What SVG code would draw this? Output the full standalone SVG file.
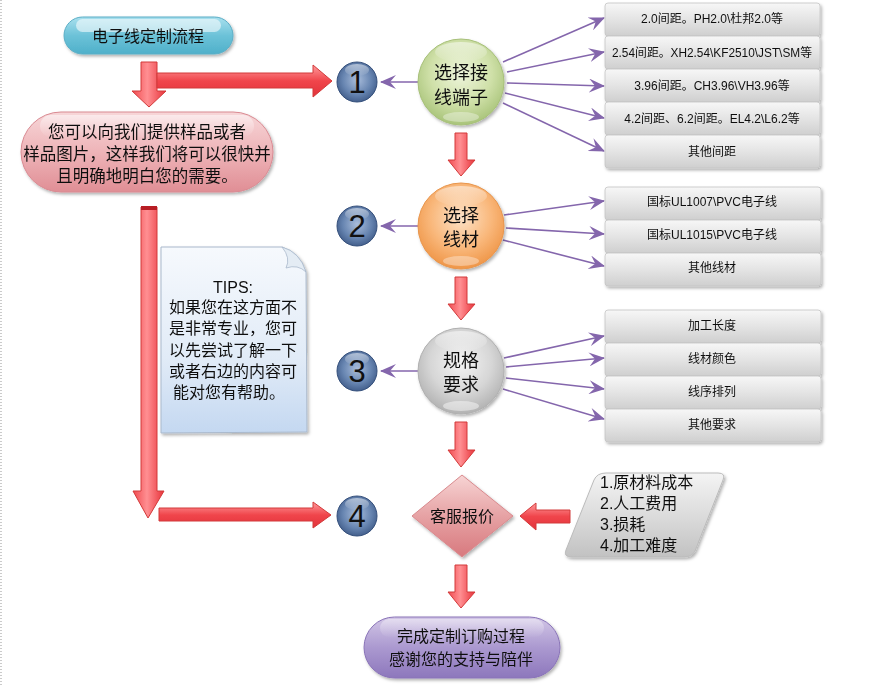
<svg xmlns="http://www.w3.org/2000/svg" width="878" height="685" viewBox="0 0 878 685">
<defs>
<style>
.cjk{font-family:"Liberation Sans","Noto Sans CJK SC",sans-serif;fill:#111;text-anchor:middle}
.t16{font-size:16px}
.t17{font-size:16.5px}
.t18{font-size:18px}
.t12{font-size:12px}
.num{font-family:"Liberation Sans",sans-serif;font-size:31px;fill:#111;text-anchor:middle}
.pl{stroke:#8466ac;stroke-width:1.6;fill:none;marker-end:url(#pa)}
.red{fill:url(#gRed);stroke:#d23a3a;stroke-width:1}
.row{fill:url(#gRow);stroke:#c4c4c4;stroke-width:0.8}
.hl{fill:#fff;opacity:0.55}
</style>
<marker id="pa" markerUnits="userSpaceOnUse" markerWidth="18" markerHeight="14" refX="15" refY="7" orient="auto">
<path d="M0,0 L16,7 L0,14 L6,7 z" fill="#8466ac"/>
</marker>
<linearGradient id="gRed" x1="0" y1="0" x2="1" y2="0">
<stop offset="0" stop-color="#f04a4f"/>
<stop offset="0.45" stop-color="#ff8f92"/>
<stop offset="1" stop-color="#e8323a"/>
</linearGradient>
<linearGradient id="gRedH" x1="0" y1="0" x2="0" y2="1">
<stop offset="0" stop-color="#ff9a9c"/>
<stop offset="0.5" stop-color="#f0454b"/>
<stop offset="1" stop-color="#e2323a"/>
</linearGradient>
<linearGradient id="gRow" x1="0" y1="0" x2="0" y2="1">
<stop offset="0" stop-color="#f7f7f7"/>
<stop offset="0.5" stop-color="#e4e4e4"/>
<stop offset="1" stop-color="#cfcfcf"/>
</linearGradient>
<linearGradient id="gTitle" x1="0" y1="0" x2="0" y2="1">
<stop offset="0" stop-color="#a9e0ee"/>
<stop offset="0.5" stop-color="#6cc2d8"/>
<stop offset="1" stop-color="#4fb0ca"/>
</linearGradient>
<linearGradient id="gPink" x1="0" y1="0" x2="0" y2="1">
<stop offset="0" stop-color="#f7d6d8"/>
<stop offset="0.5" stop-color="#eeb4b8"/>
<stop offset="1" stop-color="#e08e95"/>
</linearGradient>
<linearGradient id="gPurp" x1="0" y1="0" x2="0" y2="1">
<stop offset="0" stop-color="#d2c6e6"/>
<stop offset="0.5" stop-color="#ab99d0"/>
<stop offset="1" stop-color="#8d77bc"/>
</linearGradient>
<linearGradient id="gDia" x1="0" y1="0" x2="0" y2="1">
<stop offset="0" stop-color="#f7d4d4"/>
<stop offset="0.5" stop-color="#e6a2a4"/>
<stop offset="1" stop-color="#d8797e"/>
</linearGradient>
<linearGradient id="gPar" x1="0" y1="0" x2="0" y2="1">
<stop offset="0" stop-color="#f4f4f4"/>
<stop offset="0.5" stop-color="#dcdcdc"/>
<stop offset="1" stop-color="#c2c2c2"/>
</linearGradient>
<linearGradient id="gNote" x1="0" y1="0" x2="0" y2="1">
<stop offset="0" stop-color="#f6f9fd"/>
<stop offset="0.6" stop-color="#e1ebf7"/>
<stop offset="1" stop-color="#c4d8f1"/>
</linearGradient>
<radialGradient id="gGreen" cx="0.5" cy="0.4" r="0.6">
<stop offset="0" stop-color="#eef5dc"/>
<stop offset="0.6" stop-color="#cfe0a8"/>
<stop offset="1" stop-color="#a9c47a"/>
</radialGradient>
<radialGradient id="gOrange" cx="0.5" cy="0.4" r="0.6">
<stop offset="0" stop-color="#fde3c8"/>
<stop offset="0.6" stop-color="#f9b77a"/>
<stop offset="1" stop-color="#ef9648"/>
</radialGradient>
<radialGradient id="gGray" cx="0.5" cy="0.4" r="0.6">
<stop offset="0" stop-color="#f4f4f4"/>
<stop offset="0.6" stop-color="#d6d6d6"/>
<stop offset="1" stop-color="#b2b2b2"/>
</radialGradient>
<radialGradient id="gBlue" cx="0.5" cy="0.45" r="0.6">
<stop offset="0" stop-color="#a9bddb"/>
<stop offset="0.6" stop-color="#6684b0"/>
<stop offset="1" stop-color="#3b5683"/>
</radialGradient>
<linearGradient id="gGloss" x1="0" y1="0" x2="0" y2="1">
<stop offset="0" stop-color="#fff" stop-opacity="0.85"/>
<stop offset="1" stop-color="#fff" stop-opacity="0.05"/>
</linearGradient>
<filter id="sh" x="-10%" y="-10%" width="125%" height="130%">
<feDropShadow dx="1.5" dy="2" stdDeviation="1.5" flood-color="#000" flood-opacity="0.3"/>
</filter>
</defs>

<rect x="0" y="0" width="878" height="685" fill="#fff"/>
<line x1="1" y1="0" x2="1" y2="685" stroke="#bbb" stroke-width="1.5" stroke-dasharray="1,2"/>

<!-- connectors -->
<g id="connectors">
<!-- red block arrows -->
<path class="red" d="M141,62 H157 V91 H166 L149,107 L132,91 H141 Z"/>
<path class="red" style="fill:url(#gRedH)" d="M157,73 H313 V65 L332,81 L313,97 V88 H157 Z"/>
<path class="red" d="M141,207 H157 V491 H164 L148,518 L133,491 H141 Z"/>
<rect x="141" y="206" width="16" height="4" fill="#b81d24"/>
<path class="red" style="fill:url(#gRedH)" d="M159,508 H313 V502 L331,515 L313,528 V521 H159 Z"/>
<path class="red" d="M455,133 H467 V160 H475 L461,176 L448,160 H455 Z"/>
<path class="red" d="M455,277 H467 V304 H475 L461,320 L448,304 H455 Z"/>
<path class="red" d="M455,422 H467 V450 H475 L461,467 L448,450 H455 Z"/>
<path class="red" d="M455,565 H467 V592 H475 L461,608 L448,592 H455 Z"/>
<path class="red" style="fill:url(#gRedH)" d="M570,510 H536 V503 L520,516 L536,530 V523 H570 Z"/>
<!-- purple arrows -->
<line class="pl" x1="418" y1="82" x2="381" y2="82"/>
<line class="pl" x1="418" y1="226" x2="381" y2="226"/>
<line class="pl" x1="418" y1="371" x2="381" y2="371"/>
<line class="pl" x1="503" y1="62" x2="604" y2="18"/>
<line class="pl" x1="507" y1="72" x2="604" y2="52"/>
<line class="pl" x1="507" y1="83" x2="604" y2="86"/>
<line class="pl" x1="505" y1="93" x2="604" y2="118"/>
<line class="pl" x1="503" y1="103" x2="604" y2="151"/>
<line class="pl" x1="504" y1="215" x2="604" y2="201"/>
<line class="pl" x1="506" y1="228" x2="604" y2="234"/>
<line class="pl" x1="503" y1="240" x2="604" y2="266"/>
<line class="pl" x1="504" y1="358" x2="604" y2="336"/>
<line class="pl" x1="506" y1="367" x2="604" y2="358"/>
<line class="pl" x1="506" y1="378" x2="604" y2="389"/>
<line class="pl" x1="503" y1="389" x2="604" y2="419"/>
</g>

<!-- title -->
<g id="title" filter="url(#sh)">
<rect x="64" y="17" width="169" height="37" rx="18.5" fill="url(#gTitle)" stroke="#5aaec6" stroke-width="1"/>
<rect x="76" y="19" width="145" height="13" rx="6.5" class="hl" opacity="0.4"/>
<text class="cjk t16" x="148" y="42">电子线定制流程</text>
</g>

<!-- sample pill -->
<g id="sample" filter="url(#sh)">
<rect x="21" y="112" width="252" height="80" rx="40" fill="url(#gPink)" stroke="#d98a92" stroke-width="1"/>
<rect x="40" y="115" width="214" height="22" rx="11" fill="url(#gGloss)" opacity="0.6"/>
<text class="cjk t17" x="147" y="138">您可以向我们提供样品或者</text>
<text class="cjk t17" x="147" y="160">样品图片，这样我们将可以很快并</text>
<text class="cjk t17" x="147" y="182">且明确地明白您的需要。</text>
</g>

<!-- tips note -->
<g id="tips" filter="url(#sh)">
<path d="M161,247 L282,247 Q300,252 306,272 L307,432 L161,433 Z" fill="url(#gNote)" stroke="#aab9cc" stroke-width="1"/>
<path d="M282,247 Q291,258 286,268 Q298,264 306,272 Q300,252 282,247 Z" fill="#e4ecf4" stroke="#aab9cc" stroke-width="0.8"/>
<text class="cjk t16" x="233" y="293">TIPS:</text>
<text class="cjk t16" x="233" y="313">如果您在这方面不</text>
<text class="cjk t16" x="233" y="334">是非常专业，您可</text>
<text class="cjk t16" x="233" y="356">以先尝试了解一下</text>
<text class="cjk t16" x="233" y="377">或者右边的内容可</text>
<text class="cjk t16" x="229" y="398">能对您有帮助。</text>
</g>

<!-- number circles -->
<g id="n1">
<circle cx="357" cy="82" r="20" fill="url(#gBlue)" stroke="#35507c" stroke-width="1"/>
<ellipse cx="357" cy="70" rx="12" ry="6" fill="url(#gGloss)" opacity="0.6"/>
<text class="num" x="357" y="93">1</text>
</g>
<g id="n2">
<circle cx="357" cy="226" r="20" fill="url(#gBlue)" stroke="#35507c" stroke-width="1"/>
<ellipse cx="357" cy="214" rx="12" ry="6" fill="url(#gGloss)" opacity="0.6"/>
<text class="num" x="357" y="237">2</text>
</g>
<g id="n3">
<circle cx="357" cy="371" r="20" fill="url(#gBlue)" stroke="#35507c" stroke-width="1"/>
<ellipse cx="357" cy="359" rx="12" ry="6" fill="url(#gGloss)" opacity="0.6"/>
<text class="num" x="357" y="382">3</text>
</g>
<g id="n4">
<circle cx="357" cy="516" r="20" fill="url(#gBlue)" stroke="#35507c" stroke-width="1"/>
<ellipse cx="357" cy="504" rx="12" ry="6" fill="url(#gGloss)" opacity="0.6"/>
<text class="num" x="357" y="527">4</text>
</g>

<!-- spheres -->
<g id="terminal" filter="url(#sh)">
<circle cx="461" cy="82" r="43" fill="url(#gGreen)" stroke="#a7c079" stroke-width="1"/>
<ellipse cx="461" cy="52" rx="26" ry="10" fill="url(#gGloss)" opacity="0.6"/>
<ellipse cx="461" cy="117" rx="18" ry="5" fill="#fff" opacity="0.35"/>
<text class="cjk t18" x="461" y="79">选择接</text>
<text class="cjk t18" x="461" y="104">线端子</text>
</g>
<g id="wire" filter="url(#sh)">
<circle cx="461" cy="226" r="43" fill="url(#gOrange)" stroke="#e8954c" stroke-width="1"/>
<ellipse cx="461" cy="196" rx="26" ry="10" fill="url(#gGloss)" opacity="0.6"/>
<ellipse cx="461" cy="261" rx="18" ry="5" fill="#fff" opacity="0.35"/>
<text class="cjk t18" x="461" y="222">选择</text>
<text class="cjk t18" x="461" y="246">线材</text>
</g>
<g id="spec" filter="url(#sh)">
<circle cx="461" cy="371" r="43" fill="url(#gGray)" stroke="#b0b0b0" stroke-width="1"/>
<ellipse cx="461" cy="341" rx="26" ry="10" fill="url(#gGloss)" opacity="0.6"/>
<ellipse cx="461" cy="406" rx="18" ry="5" fill="#fff" opacity="0.45"/>
<text class="cjk t18" x="461" y="367">规格</text>
<text class="cjk t18" x="461" y="391">要求</text>
</g>

<!-- diamond -->
<g id="quote" filter="url(#sh)">
<path d="M462,475 L513,516 L462,557 L412,516 Z" fill="url(#gDia)" stroke="#d98a8e" stroke-width="1"/>
<text class="cjk t16" x="462" y="522">客服报价</text>
</g>

<!-- cost factors -->
<g id="costs" filter="url(#sh)">
<path d="M606,473 H718 Q726,473 723,480 L695,551 Q692,557 684,557 H572 Q563,557 566,550 L594,480 Q597,473 606,473 Z" fill="url(#gPar)" stroke="#bbb" stroke-width="1"/>
<text class="cjk t16" x="600" y="488" style="text-anchor:start">1.原材料成本</text>
<text class="cjk t16" x="600" y="509" style="text-anchor:start">2.人工费用</text>
<text class="cjk t16" x="600" y="530" style="text-anchor:start">3.损耗</text>
<text class="cjk t16" x="600" y="551" style="text-anchor:start">4.加工难度</text>
</g>

<!-- end -->
<g id="finish" filter="url(#sh)">
<rect x="364" y="617" width="196" height="61" rx="30.5" fill="url(#gPurp)" stroke="#8a74b8" stroke-width="1"/>
<rect x="380" y="619" width="164" height="18" rx="9" fill="url(#gGloss)" opacity="0.5"/>
<text class="cjk t16" x="461" y="642">完成定制订购过程</text>
<text class="cjk t16" x="461" y="665">感谢您的支持与陪伴</text>
</g>

<!-- terminal options -->
<g id="opts-terminal" filter="url(#sh)">
<rect class="row" x="605" y="3" width="215" height="33" rx="3"/>
<rect class="row" x="605" y="36" width="215" height="33" rx="3"/>
<rect class="row" x="605" y="69" width="215" height="33" rx="3"/>
<rect class="row" x="605" y="102" width="215" height="33" rx="3"/>
<rect class="row" x="605" y="135" width="215" height="33" rx="3"/>
<text class="cjk t12" x="712" y="23">2.0间距。PH2.0\杜邦2.0等</text>
<text class="cjk t12" x="712" y="57" textLength="200" lengthAdjust="spacingAndGlyphs">2.54间距。XH2.54\KF2510\JST\SM等</text>
<text class="cjk t12" x="712" y="90">3.96间距。CH3.96\VH3.96等</text>
<text class="cjk t12" x="712" y="123">4.2间距、6.2间距。EL4.2\L6.2等</text>
<text class="cjk t12" x="712" y="156">其他间距</text>
</g>

<g id="opts-wire" filter="url(#sh)">
<rect class="row" x="605" y="187" width="216" height="33" rx="3"/>
<rect class="row" x="605" y="220" width="216" height="33" rx="3"/>
<rect class="row" x="605" y="253" width="216" height="33" rx="3"/>
<text class="cjk t12" x="712" y="206">国标UL1007\PVC电子线</text>
<text class="cjk t12" x="712" y="239">国标UL1015\PVC电子线</text>
<text class="cjk t12" x="712" y="272">其他线材</text>
</g>

<g id="opts-spec" filter="url(#sh)">
<rect class="row" x="605" y="310" width="216" height="33" rx="3"/>
<rect class="row" x="605" y="343" width="216" height="33" rx="3"/>
<rect class="row" x="605" y="376" width="216" height="33" rx="3"/>
<rect class="row" x="605" y="409" width="216" height="33" rx="3"/>
<text class="cjk t12" x="712" y="330">加工长度</text>
<text class="cjk t12" x="712" y="363">线材颜色</text>
<text class="cjk t12" x="712" y="396">线序排列</text>
<text class="cjk t12" x="712" y="429">其他要求</text>
</g>
</svg>
